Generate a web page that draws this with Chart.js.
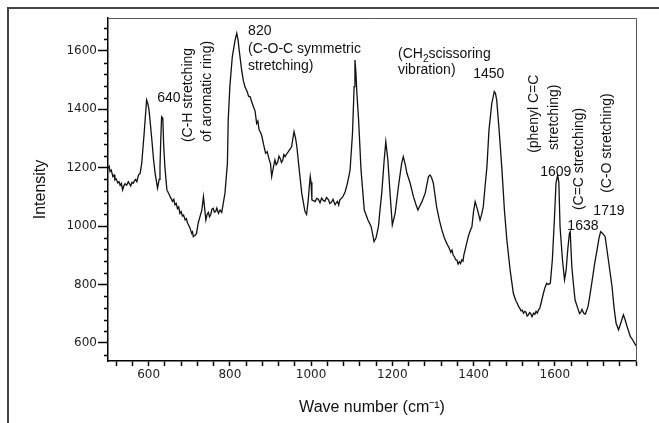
<!DOCTYPE html>
<html>
<head>
<meta charset="utf-8">
<script src="https://cdn.jsdelivr.net/npm/chart.js@4.4.1/dist/chart.umd.min.js"></script>
<style>
  html, body { margin: 0; padding: 0; background: #fff; }
  #wrap { width: 659px; height: 423px; }
</style>
</head>
<body>
<div id="wrap"><canvas id="chart" width="659" height="423"></canvas></div>
<script>
// spectrum: wave number (cm-1) and intensity, one line per stretch
const waveNumbers = [
  500, 503, 505, 508, 512, 515, 517, 520, 524, 527, 530, 533, 536, 539, 542, 546, 550, 553, 556, 559, 562, 565, 568, 571, 575, 579, 583,
  589, 595, 598, 601, 605, 608, 612, 616, 622, 626, 628, 630, 632, 635, 637, 640, 645, 650, 653,
  659, 662, 665, 668, 671, 674, 677, 680, 683, 686, 690, 693, 696, 699, 702, 706, 708, 710, 714, 718, 722, 726, 731, 735, 738,
  741, 744, 747, 750, 753, 756, 759, 762, 765, 768, 772, 776, 780, 784, 788,
  794, 796, 800, 806, 813, 817, 820, 823, 829, 833, 837, 843,
  846, 850, 854, 858, 862, 866, 869, 872, 876, 879, 883, 888, 892, 897, 900, 903, 907, 911, 914, 918, 921, 924, 927, 930, 933, 936, 940, 944,
  952, 958, 962, 965, 970, 977, 985, 989, 993, 996, 998, 1000, 1002,
  1010, 1014, 1018, 1022, 1026, 1030, 1034, 1038, 1043, 1046, 1050, 1054, 1059, 1062, 1065, 1068, 1071, 1078, 1084, 1090,
  1096, 1102, 1106, 1108, 1110, 1113, 1117, 1123, 1131, 1140, 1148, 1155,
  1160, 1166, 1170, 1174, 1180, 1184, 1189, 1195, 1200, 1207, 1215, 1223, 1227, 1232, 1236, 1244, 1252, 1258, 1263, 1268, 1273, 1281, 1289, 1293, 1297, 1301, 1309, 1316, 1322, 1328, 1334,
  1340, 1344, 1347, 1350, 1353, 1356, 1359, 1362, 1365, 1368, 1371, 1374, 1376,
  1382, 1387, 1392, 1396, 1400, 1404, 1410, 1416, 1420, 1424, 1428, 1433, 1438, 1445, 1451, 1454, 1457, 1463, 1470, 1476, 1482, 1490, 1498,
  1504, 1508, 1511, 1514, 1517, 1520, 1523, 1526, 1529, 1532, 1535, 1538, 1541, 1544, 1548, 1551, 1554, 1557, 1560, 1563, 1566,
  1572, 1576, 1580, 1584, 1589, 1594, 1599, 1603, 1607, 1610, 1613, 1619, 1624, 1628, 1632, 1636, 1638, 1642, 1646, 1650,
  1658, 1661, 1664, 1667, 1671, 1675, 1679, 1682, 1685, 1691, 1698, 1704, 1709, 1713, 1718, 1724, 1732, 1741, 1746, 1751, 1757, 1763, 1769, 1773, 1778, 1786, 1792, 1798, 1800
];
const intensities = [
  1198, 1205, 1187, 1192, 1170, 1175, 1158, 1162, 1148, 1152, 1140, 1146, 1124, 1138, 1145, 1140, 1152, 1145, 1138, 1150, 1147, 1155, 1160, 1152, 1175, 1180, 1215,
  1318, 1432, 1420, 1398, 1340, 1295, 1230, 1181, 1130, 1160, 1204, 1300, 1375, 1370, 1280, 1204, 1124, 1110, 1101,
  1085, 1092, 1073, 1078, 1060, 1066, 1044, 1050, 1035, 1038, 1021, 1026, 1010, 1002, 993, 975, 980, 964, 968, 975, 1010, 1030, 1055, 1101, 1060,
  1021, 1040, 1047, 1032, 1040, 1058, 1061, 1048, 1050, 1062, 1044, 1055, 1047, 1080, 1113,
  1215, 1364, 1478, 1580, 1638, 1661, 1640, 1603, 1535, 1500, 1478, 1460,
  1445, 1443, 1425, 1409, 1395, 1352, 1360, 1330, 1320, 1307, 1280, 1250, 1255, 1227, 1215, 1170, 1200, 1227, 1210, 1220, 1240, 1232, 1218, 1225, 1245, 1238, 1248, 1255,
  1272, 1324, 1300, 1272, 1204, 1113, 1050, 1040, 1090, 1140, 1170, 1150, 1090,
  1084, 1095, 1092, 1080, 1096, 1088, 1085, 1098, 1090, 1078, 1082, 1092, 1073, 1080, 1085, 1072, 1090, 1100, 1118, 1150,
  1192, 1318, 1478, 1569, 1535, 1450, 1364, 1192, 1055, 1021, 998, 947,
  960, 1000, 1060, 1113, 1227, 1289, 1227, 1101, 1004, 1044, 1135, 1215, 1238, 1210, 1181, 1147, 1101, 1075, 1055, 1070, 1084, 1113, 1170, 1175, 1165, 1147, 1067, 1020, 987, 960, 941,
  925, 910, 918, 900, 895, 885, 884, 870, 878, 872, 884, 880, 900,
  935, 964, 985, 998, 1050, 1084, 1055, 1021, 1040, 1067, 1130, 1204, 1329, 1421, 1461, 1455, 1432, 1329, 1192, 1055, 953, 850, 770,
  745, 735, 724, 718, 710, 712, 702, 708, 705, 692, 696, 704, 700, 690, 702, 698, 708, 702, 713, 718, 735,
  770, 790, 804, 800, 804, 884, 1021, 1147, 1175, 1150, 998, 884, 816, 850, 920, 975, 981, 861, 800, 747,
  713, 700, 705, 715, 702, 698, 713, 725, 750, 804, 870, 918, 960, 981, 975, 964, 884, 793, 720, 667, 645, 670, 696, 680, 656, 622, 610, 595, 590
];
const xTickLabels = [600, 800, 1000, 1200, 1400, 1600];
const yTickLabels = [600, 800, 1000, 1200, 1400, 1600];

// peak labels, anchored in data units (wave number, intensity)
const notes = [
  { text: '640', x: 621, y: 1425 },
  { text: '(C-H stretching', x: 707, y: 1288, rot: true },
  { text: 'of aromatic ring)', x: 754, y: 1288, rot: true },
  { text: '820', x: 845, y: 1655 },
  { text: '(C-O-C symmetric', x: 845, y: 1593 },
  { text: 'stretching)', x: 845, y: 1535 },
  { text: 'vibration)', x: 1214, y: 1521 },
  { text: '1450', x: 1399, y: 1508 },
  { text: '(phenyl C=C', x: 1559, y: 1251, rot: true },
  { text: 'stretching)', x: 1608, y: 1261, rot: true },
  { text: '1609', x: 1564, y: 1172 },
  { text: '(C=C stretching)', x: 1670, y: 1055, rot: true },
  { text: '(C-O stretching)', x: 1739, y: 1114, rot: true },
  { text: '1719', x: 1695, y: 1038 },
  { text: '1638', x: 1631, y: 987 }
];
const ch2Note = { x: 1214, y: 1576 };

const FONT = '"Liberation Sans", Arial, sans-serif';

const framePlugin = {
  id: 'frame',
  beforeDraw(chart) {
    const ctx = chart.ctx;
    ctx.save();
    ctx.fillStyle = '#fff';
    ctx.fillRect(0, 0, chart.width, chart.height);
    ctx.strokeStyle = '#444';
    ctx.lineWidth = 2;
    ctx.beginPath();
    ctx.moveTo(8, chart.height);
    ctx.lineTo(8, 8);
    ctx.lineTo(chart.width, 8);
    ctx.stroke();
    ctx.restore();
  },
  afterDraw(chart) {
    const ctx = chart.ctx;
    const a = chart.chartArea;
    const xs = chart.scales.x;
    const ys = chart.scales.y;
    ctx.save();
    // top and right edge of the plot box
    ctx.strokeStyle = '#555';
    ctx.lineWidth = 1;
    ctx.beginPath();
    ctx.moveTo(a.left, a.top + 0.5);
    ctx.lineTo(a.right + 0.5, a.top + 0.5);
    ctx.lineTo(a.right + 0.5, a.bottom);
    ctx.stroke();
    // short minor ticks on the y axis
    ctx.strokeStyle = '#000';
    ctx.lineWidth = 1.5;
    ys.ticks.forEach((t) => {
      if (yTickLabels.includes(t.value)) return;
      const py = Math.round(ys.getPixelForValue(t.value)) + 0.5;
      ctx.beginPath();
      ctx.moveTo(a.left - 4, py);
      ctx.lineTo(a.left, py);
      ctx.stroke();
    });

    ctx.fillStyle = '#111';
    ctx.font = '14px ' + FONT;
    ctx.textBaseline = 'alphabetic';
    ctx.textAlign = 'left';
    notes.forEach((n) => {
      const px = xs.getPixelForValue(n.x);
      const py = ys.getPixelForValue(n.y);
      if (n.rot) {
        ctx.save();
        ctx.translate(px, py);
        ctx.rotate(-Math.PI / 2);
        ctx.fillText(n.text, 0, 0);
        ctx.restore();
      } else {
        ctx.fillText(n.text, px, py);
      }
    });
    // (CH2scissoring with a subscript 2
    let cx = xs.getPixelForValue(ch2Note.x);
    const cy = ys.getPixelForValue(ch2Note.y);
    ctx.fillText('(CH', cx, cy);
    cx += ctx.measureText('(CH').width;
    ctx.font = '10px ' + FONT;
    ctx.fillText('2', cx, cy + 4);
    cx += ctx.measureText('2').width;
    ctx.font = '14px ' + FONT;
    ctx.fillText('scissoring', cx, cy);
    ctx.restore();
  }
};

const points = waveNumbers.map((w, i) => ({ x: w, y: intensities[i] }));

new Chart(document.getElementById('chart'), {
  type: 'line',
  data: {
    datasets: [{
      data: points,
      borderColor: '#111',
      borderWidth: 1.3,
      pointRadius: 0,
      tension: 0,
      fill: false
    }]
  },
  options: {
    responsive: false,
    animation: false,
    layout: { padding: { top: 18, right: 23, left: 0, bottom: 0 } },
    plugins: { legend: { display: false }, tooltip: { enabled: false } },
    scales: {
      x: {
        type: 'linear',
        min: 500,
        max: 1800,
        afterFit: (s) => { s.height = 62; },
        border: { color: '#000', width: 1.5 },
        grid: { drawOnChartArea: false, tickLength: 5, tickColor: '#000', tickWidth: 1.5 },
        ticks: {
          stepSize: 40,
          includeBounds: false,
          autoSkip: false,
          maxRotation: 0,
          padding: 2,
          color: '#222',
          font: { family: '"DejaVu Sans", sans-serif', size: 12 },
          callback: (v) => (xTickLabels.includes(v) ? String(v) : '')
        },
        title: {
          display: true,
          text: 'Wave number (cm\u207B\u00B9)',
          color: '#111',
          font: { family: FONT, size: 16 },
          padding: { top: 0, bottom: 6 }
        }
      },
      y: {
        min: 538,
        max: 1713,
        afterFit: (s) => { s.width = 108; },
        border: { color: '#000', width: 1.5 },
        grid: {
          drawOnChartArea: false,
          tickLength: 10,
          tickWidth: 1.5,
          tickColor: (c) => (yTickLabels.includes(c.tick.value) ? '#000' : 'rgba(0,0,0,0)')
        },
        ticks: {
          stepSize: 40,
          includeBounds: false,
          autoSkip: false,
          padding: 1,
          color: '#222',
          font: { family: '"DejaVu Sans", sans-serif', size: 12 },
          callback: (v) => (yTickLabels.includes(v) ? String(v) : '')
        },
        title: {
          display: true,
          text: 'Intensity',
          color: '#111',
          font: { family: FONT, size: 16 },
          padding: { top: 31, bottom: 0 }
        }
      }
    }
  },
  plugins: [framePlugin]
});
</script>
</body>
</html>
